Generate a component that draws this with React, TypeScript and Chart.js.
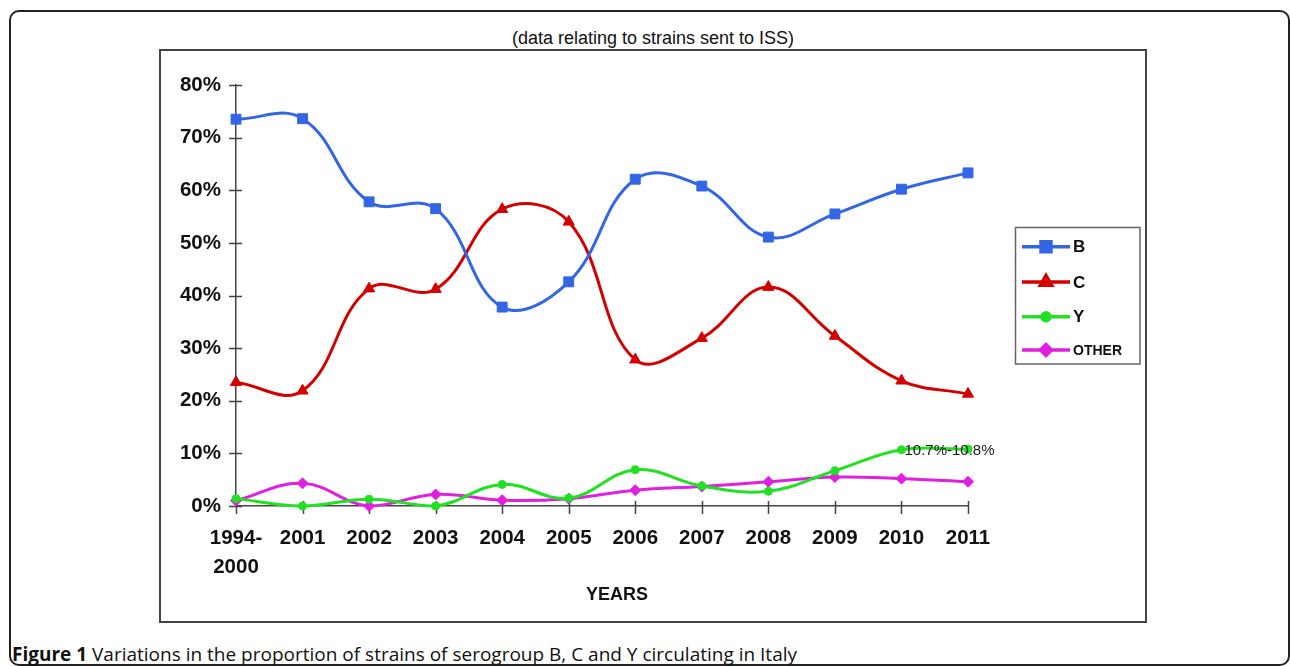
import React, { useEffect, useRef } from 'react';
import { Chart, registerables } from 'chart.js';
import { drawPoint } from 'chart.js/helpers';

Chart.register(...registerables);

const categories: (string | string[])[] = [
  ['1994-', '2000'], '2001', '2002', '2003', '2004', '2005',
  '2006', '2007', '2008', '2009', '2010', '2011',
];
const seriesB = [73.5, 73.6, 57.8, 56.5, 37.8, 42.6, 62.1, 60.8, 51.1, 55.5, 60.2, 63.3];
const seriesC = [23.5, 21.9, 41.3, 41.2, 56.4, 54.0, 27.8, 31.9, 41.6, 32.3, 23.8, 21.3];
const seriesY = [1.4, 0, 1.3, 0, 4.1, 1.5, 6.9, 3.8, 2.8, 6.7, 10.7, 10.8];
const seriesOther = [1.0, 4.3, 0, 2.2, 1.1, 1.4, 3.0, 3.7, 4.6, 5.5, 5.2, 4.6];
const seriesNames = ['B', 'C', 'Y', 'OTHER'];
const yTickValues = [0, 10, 20, 30, 40, 50, 60, 70, 80];
const chartTitle = '(data relating to strains sent to ISS)';
const xAxisTitle = 'YEARS';
const annotationText = '10.7%-10.8%';
const captionBold = 'Figure 1';
const captionText = ' Variations in the proportion of strains of serogroup B, C and Y circulating in Italy';

const FONT = '"Liberation Sans", Arial, sans-serif';

const crossTicksPlugin = {
  id: 'crossTicks',
  beforeDatasetsDraw(chart: any) {
    const { ctx, scales } = chart;
    const xs = scales.x;
    const ys = scales.y;
    const axisX = ys.right;
    const axisY = xs.top;
    ctx.save();
    ctx.strokeStyle = '#444';
    ctx.lineWidth = 1.5;
    ctx.beginPath();
    yTickValues.forEach((v) => {
      const py = Math.round(ys.getPixelForValue(v)) + 0.5;
      ctx.moveTo(axisX - 7, py);
      ctx.lineTo(axisX + 6, py);
    });
    categories.forEach((_, i) => {
      const px = Math.round(xs.getPixelForValue(i)) + 0.5;
      ctx.moveTo(px, axisY - 5);
      ctx.lineTo(px, axisY + 8);
    });
    ctx.stroke();
    ctx.restore();
  },
  afterDraw(chart: any) {
    const { ctx, scales, chartArea } = chart;
    ctx.save();
    ctx.font = `bold 18px ${FONT}`;
    ctx.fillStyle = '#111';
    ctx.textAlign = 'center';
    ctx.textBaseline = 'middle';
    const cx = (chartArea.left + chartArea.right) / 2 + 15;
    ctx.fillText(xAxisTitle, cx, scales.x.top + 89);
    ctx.restore();
  },
};

const annotationPlugin = {
  id: 'annot',
  afterDatasetsDraw(chart: any) {
    const { ctx, scales } = chart;
    const idx = 10;
    const px = scales.x.getPixelForValue(idx);
    const py = scales.y.getPixelForValue(seriesY[idx]);
    ctx.save();
    ctx.font = `15px ${FONT}`;
    ctx.fillStyle = '#1a1a1a';
    ctx.textAlign = 'left';
    ctx.textBaseline = 'middle';
    ctx.fillText(annotationText, px + 3, py + 1);
    ctx.restore();
  },
};

const boxLegendPlugin = {
  id: 'boxLegend',
  afterDraw(chart: any) {
    const { ctx } = chart;
    const bx = 855.5, by = 177.5, bw = 124.5, bh = 136.5;
    ctx.save();
    ctx.strokeStyle = '#666';
    ctx.lineWidth = 1.5;
    ctx.strokeRect(bx, by, bw, bh);
    const rowY = [196.7, 232, 266.7, 300];
    chart.data.datasets.forEach((ds: any, i: number) => {
      const y = rowY[i];
      ctx.strokeStyle = ds.borderColor;
      ctx.lineWidth = 3.5;
      ctx.beginPath();
      ctx.moveTo(862, y);
      ctx.lineTo(910, y);
      ctx.stroke();
      ctx.fillStyle = ds.pointBackgroundColor;
      ctx.strokeStyle = ds.pointBorderColor;
      drawPoint(ctx, {
        pointStyle: ds.pointStyle,
        radius: ds.pointRadius,
        rotation: 0,
        borderWidth: 1,
      } as any, 886, y);
      ctx.fillStyle = '#111';
      ctx.font = `bold ${ds.label.length > 1 ? 14 : 17}px ${FONT}`;
      ctx.textAlign = 'left';
      ctx.textBaseline = 'middle';
      ctx.fillText(ds.label, 913, y + 1);
    });
    ctx.restore();
  },
};

export default function App() {
  const canvasRef = useRef<HTMLCanvasElement | null>(null);

  useEffect(() => {
    if (!canvasRef.current) return;
    const mk = (label: string, data: number[], color: string, style: string, radius: number) => ({
      label,
      data,
      borderColor: color,
      backgroundColor: color,
      pointBackgroundColor: color,
      pointBorderColor: color,
      pointBorderWidth: 1,
      pointStyle: style,
      pointRadius: radius,
      borderWidth: 3,
      tension: 0.4,
      clip: false as any,
      fill: false,
    });
    const chart = new Chart(canvasRef.current, {
      type: 'line',
      data: {
        labels: categories as any,
        datasets: [
          mk(seriesNames[0], seriesB, '#3366E6', 'rect', 7),
          mk(seriesNames[1], seriesC, '#D40000', 'triangle', 6.5),
          mk(seriesNames[2], seriesY, '#22E022', 'circle', 4),
          mk(seriesNames[3], seriesOther, '#E020E0', 'rectRot', 5.5),
        ],
      },
      options: {
        animation: false,
        responsive: false,
        maintainAspectRatio: false,
        layout: { padding: { left: 0, right: 178, top: 35, bottom: 12 } },
        plugins: {
          legend: { display: false },
          tooltip: { enabled: false },
          title: { display: false },
        },
        scales: {
          x: {
            type: 'category',
            offset: false,
            grid: { display: false, drawTicks: false },
            border: { display: true, color: '#444', width: 1.5 },
            ticks: {
              color: '#111',
              font: { family: FONT, size: 20.5, weight: 'bold', lineHeight: 1.42 },
              padding: 18,
              maxRotation: 0,
              autoSkip: false,
            },
            title: { display: false },
            afterFit: (s: any) => { s.height = 104; },
          },
          y: {
            min: 0,
            max: 80,
            grid: { display: false, drawTicks: false },
            border: { display: true, color: '#444', width: 1.5 },
            ticks: {
              stepSize: 10,
              color: '#111',
              font: { family: FONT, size: 20.5, weight: 'bold' },
              padding: 15,
              callback: (v: any) => `${v}%`,
            },
            afterFit: (s: any) => { s.width = 76; },
          },
        },
      } as any,
      plugins: [crossTicksPlugin, annotationPlugin, boxLegendPlugin],
    });
    return () => chart.destroy();
  }, []);

  return (
    <div style={{ position: 'fixed', left: 0, top: 0, width: 1290, height: 666, background: '#fff', overflow: 'hidden' }}>
      <div style={{
        position: 'absolute', left: 9, top: 10, width: 1281, height: 656,
        border: '2px solid #222', borderRadius: 10, boxSizing: 'border-box',
      }} />
      <div style={{
        position: 'absolute', left: 160, top: 27, width: 986, textAlign: 'center',
        fontFamily: FONT, fontSize: 18, color: '#111', lineHeight: '22px',
      }}>{chartTitle}</div>
      <canvas ref={canvasRef} width={986} height={572}
        style={{ position: 'absolute', left: 160, top: 50, width: 986, height: 572 }} />
      <div style={{
        position: 'absolute', left: 159, top: 49, width: 988, height: 574,
        border: '2px solid #444', boxSizing: 'border-box', pointerEvents: 'none',
      }} />
      <div style={{
        position: 'absolute', left: 12, top: 642, whiteSpace: 'nowrap',
        fontFamily: '"Open Sans", sans-serif', fontSize: 19, color: '#111', lineHeight: '24px',
      }}>
        <b>{captionBold}</b>{captionText}
      </div>
    </div>
  );
}
